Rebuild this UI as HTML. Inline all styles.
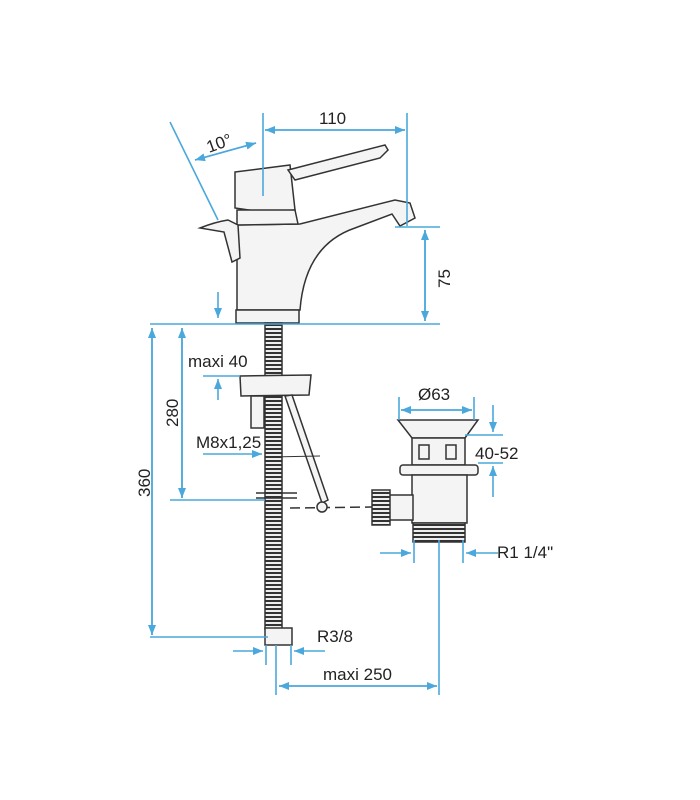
<!DOCTYPE html>
<html><head><style>
html,body{margin:0;padding:0;background:#fff;}
svg{display:block;}
text{font-family:"Liberation Sans",sans-serif;font-size:17px;fill:#222;}
</style></head><body>
<svg width="700" height="800" viewBox="0 0 700 800" xmlns="http://www.w3.org/2000/svg">
<defs>
<marker id="a" markerWidth="10" markerHeight="8" refX="10" refY="4" orient="auto" markerUnits="userSpaceOnUse">
<path d="M0,0 L10,4 L0,8 Z" fill="#4aa8dc"/></marker>
<pattern id="thr" width="6" height="4" patternUnits="userSpaceOnUse">
<rect width="6" height="4" fill="#eee"/><rect y="0" width="6" height="2" fill="#333"/></pattern>
</defs>
<g stroke="#333" stroke-width="1.5" fill="#f4f4f4">
<!-- faucet -->
<path d="M235,172 L290,165 L295,210 L263,212 L235,208 Z"/>
<path d="M288,170 L385,145 L388,150 L380,158 L295,180 Z"/>
<path d="M237,225 L300,224 L395,200 L410,203 L415,218 L400,226 L392,214 L355,228 Q305,245 300,310 L237,310 Z"/>
<path d="M237,210 L295,210 L298,224 L237,225 Z"/>
<path d="M200,228 Q215,222 228,220 L238,225 L240,258 L232,262 L224,232 Z"/>
<rect x="236" y="310" width="63" height="13"/>
<!-- hose -->
<rect x="265" y="323" width="17" height="306" fill="url(#thr)"/>
<rect x="265" y="628" width="27" height="17"/>
<!-- bracket -->
<path d="M240,376 L311,375 L309,395 L241,396 Z"/>
<rect x="251" y="396" width="13" height="32"/>
<path d="M285,396 L292,395 L328,500 L322,503 Z"/>
<line x1="256" y1="493" x2="297" y2="493"/>
<line x1="256" y1="498" x2="297" y2="498"/>
<line x1="270" y1="457" x2="320" y2="456" stroke-width="1"/>
<line x1="290" y1="508" x2="372" y2="507" stroke-dasharray="10,5"/>
<circle cx="322" cy="507" r="5"/>
<!-- drain -->
<path d="M398,420 L478,420 L465,438 L412,438 Z"/>
<rect x="412" y="438" width="53" height="27"/>
<rect x="419" y="445" width="10" height="14"/>
<rect x="446" y="445" width="10" height="14"/>
<rect x="400" y="465" width="78" height="10" rx="3"/>
<rect x="412" y="475" width="55" height="48"/>
<rect x="388" y="495" width="25" height="25"/>
<rect x="372" y="490" width="18" height="35" fill="url(#thr)"/>
<rect x="413" y="523" width="52" height="19" fill="url(#thr)"/>
</g>
<g stroke="#4aa8dc" stroke-width="1.6" fill="none">
<!-- 110 -->
<line x1="263" y1="113" x2="263" y2="196"/>
<line x1="407" y1="113" x2="407" y2="226"/>
<line x1="265" y1="130" x2="405" y2="130" marker-end="url(#a)"/>
<line x1="405" y1="130" x2="265" y2="130" marker-end="url(#a)"/>
<!-- 10 deg -->
<line x1="170" y1="122" x2="218" y2="220"/>
<line x1="195" y1="160" x2="256" y2="143" marker-end="url(#a)"/>
<line x1="256" y1="143" x2="195" y2="160" marker-end="url(#a)"/>
<!-- 75 -->
<line x1="395" y1="227" x2="440" y2="227"/>
<line x1="150" y1="324" x2="440" y2="324"/>
<line x1="425" y1="230" x2="425" y2="321" marker-end="url(#a)"/>
<line x1="425" y1="321" x2="425" y2="230" marker-end="url(#a)"/>
<line x1="218" y1="292" x2="218" y2="318" marker-end="url(#a)"/>
<!-- 360 -->
<line x1="152" y1="328" x2="152" y2="635" marker-end="url(#a)"/>
<line x1="152" y1="635" x2="152" y2="328" marker-end="url(#a)"/>
<line x1="150" y1="637" x2="268" y2="637"/>
<!-- 280 -->
<line x1="182" y1="328" x2="182" y2="498" marker-end="url(#a)"/>
<line x1="182" y1="498" x2="182" y2="328" marker-end="url(#a)"/>
<line x1="170" y1="500" x2="265" y2="500"/>
<!-- maxi 40 -->
<line x1="203" y1="376" x2="240" y2="376"/>
<line x1="218" y1="400" x2="218" y2="379" marker-end="url(#a)"/>
<!-- M8 -->
<line x1="203" y1="454" x2="262" y2="454" marker-end="url(#a)"/>
<!-- Ø63 -->
<line x1="399" y1="397" x2="399" y2="420"/>
<line x1="474" y1="397" x2="474" y2="420"/>
<line x1="401" y1="410" x2="472" y2="410" marker-end="url(#a)"/>
<line x1="472" y1="410" x2="401" y2="410" marker-end="url(#a)"/>
<!-- 40-52 -->
<line x1="465" y1="435" x2="503" y2="435"/>
<line x1="478" y1="463" x2="503" y2="463"/>
<line x1="493" y1="405" x2="493" y2="432" marker-end="url(#a)"/>
<line x1="493" y1="497" x2="493" y2="466" marker-end="url(#a)"/>
<!-- R1 1/4 -->
<line x1="414" y1="540" x2="414" y2="563"/>
<line x1="463" y1="540" x2="463" y2="563"/>
<line x1="380" y1="553" x2="411" y2="553" marker-end="url(#a)"/>
<line x1="498" y1="553" x2="466" y2="553" marker-end="url(#a)"/>
<!-- R3/8 -->
<line x1="266" y1="645" x2="266" y2="665"/>
<line x1="291" y1="645" x2="291" y2="665"/>
<line x1="233" y1="651" x2="263" y2="651" marker-end="url(#a)"/>
<line x1="325" y1="651" x2="294" y2="651" marker-end="url(#a)"/>
<!-- maxi 250 -->
<line x1="276" y1="645" x2="276" y2="695"/>
<line x1="439" y1="540" x2="439" y2="695"/>
<line x1="279" y1="686" x2="437" y2="686" marker-end="url(#a)"/>
<line x1="437" y1="686" x2="279" y2="686" marker-end="url(#a)"/>
</g>
<text x="319" y="124">110</text>
<text x="0" y="0" transform="translate(209,153) rotate(-20)">10°</text>
<text x="0" y="0" transform="translate(450,288) rotate(-90)">75</text>
<text x="0" y="0" transform="translate(150,497) rotate(-90)">360</text>
<text x="0" y="0" transform="translate(178,427) rotate(-90)">280</text>
<text x="188" y="367">maxi 40</text>
<text x="196" y="448">M8x1,25</text>
<text x="418" y="400">Ø63</text>
<text x="475" y="459">40-52</text>
<text x="497" y="558">R1 1/4"</text>
<text x="317" y="642">R3/8</text>
<text x="323" y="680">maxi 250</text>
</svg>
</body></html>
